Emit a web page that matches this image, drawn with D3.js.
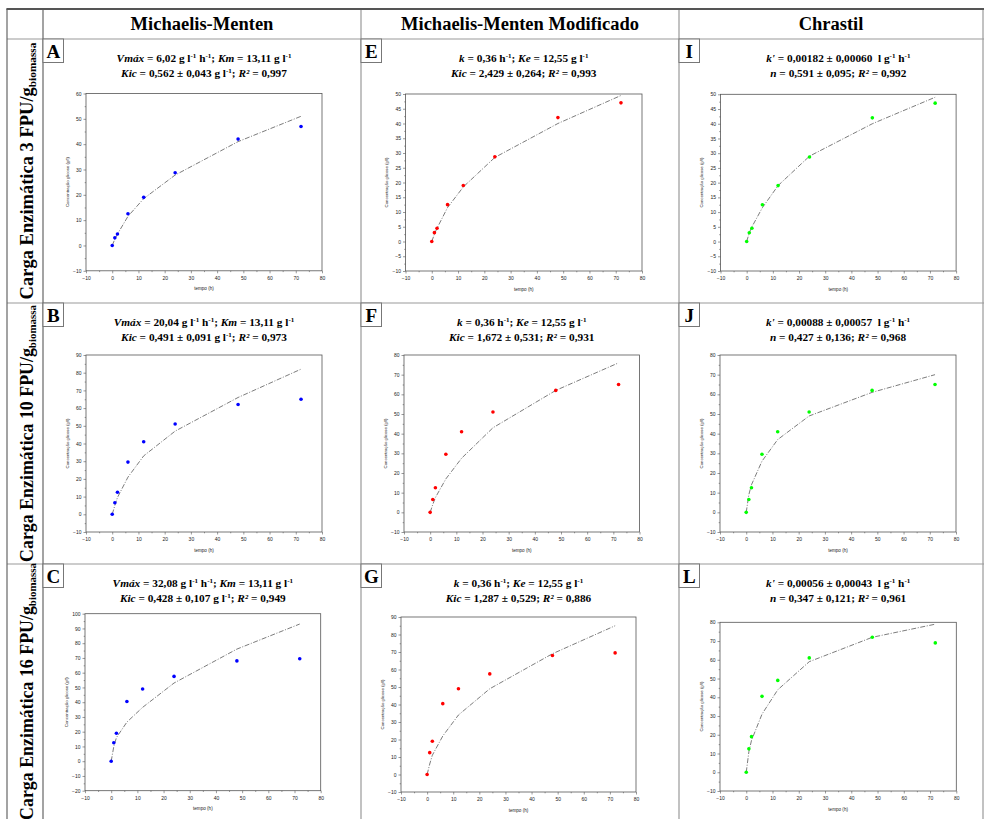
<!DOCTYPE html>
<html><head><meta charset="utf-8">
<script src="https://cdn.jsdelivr.net/npm/d3@7"></script>
<style>body{margin:0;background:#fff}svg{display:block}text{white-space:pre}</style>
</head><body><svg id="c" width="984" height="819"></svg>
<script>
// ---------------- data ----------------
const times = [0, 1, 2, 6, 12, 24, 48, 72];
const glucose3  = [0, 3, 4.5, 12.5, 19, 28.7, 42, 47];
const glucose10 = [0, 6.5, 12.5, 29.5, 41, 51, 62, 65];
const glucose16 = [0, 12.5, 19, 40.5, 49, 57.5, 68, 69.5];
const glucose16L = [0, 12.5, 19, 40.5, 49, 61, 72, 69];

const fitA = [0, 2.5, 4.5, 11.5, 18.5, 27.8, 41, 51];
const fitE = [0, 2.5, 4.5, 11.5, 18.5, 28.5, 40, 49.5];
const fitI = [0, 3, 5, 11.5, 19, 29, 40, 49];
const fitB = [0, 5, 9.5, 21, 33, 47, 66, 82];
const fitF = [0, 4, 7.5, 17, 27.5, 43, 62, 76];
const fitJ = [0, 9, 14, 26, 37, 49, 61, 70];
const fitC = [0, 10, 16, 26.5, 36.5, 53, 76, 93];
const fitG = [0, 6, 11, 22, 34, 49, 69, 85];
const fitL = [0, 11, 17, 31, 44, 59, 72, 79];

const columnTitles = ["Michaelis-Menten", "Michaelis-Menten Modificado", "Chrastil"];
const enzymeLoads = ["3", "10", "16"];
const panelLetters = ["A", "E", "I", "B", "F", "J", "C", "G", "L"];
const xTicks = [-10, 0, 10, 20, 30, 40, 50, 60, 70, 80];
const yMin  = [-10, -10, -10, -10, -10, -10, -20, -10, -10];
const yMax  = [60, 50, 50, 90, 80, 80, 100, 90, 80];
const yStep = [10, 5, 5, 10, 10, 10, 10, 10, 10];
const observed = [glucose3, glucose3, glucose3, glucose10, glucose10, glucose10, glucose16, glucose16, glucose16L];
const fitted = [fitA, fitE, fitI, fitB, fitF, fitJ, fitC, fitG, fitL];
const seriesColors = ["#0000ff", "#ff0000", "#00ff00"];

const paramLine1 = [
  "*Vmáx* = 6,02 g l^-1^ h^-1^; *Km* = 13,11 g l^-1^",
  "*k* = 0,36 h^-1^; *Ke* = 12,55 g l^-1^",
  "*k'* = 0,00182 ± 0,00060  l g^-1^ h^-1^",
  "*Vmáx* = 20,04 g l^-1^ h^-1^; *Km* = 13,11 g l^-1^",
  "*k* = 0,36 h^-1^; *Ke* = 12,55 g l^-1^",
  "*k'* = 0,00088 ± 0,00057  l g^-1^ h^-1^",
  "*Vmáx* = 32,08 g l^-1^ h^-1^; *Km* = 13,11 g l^-1^",
  "*k* = 0,36 h^-1^; *Ke* = 12,55 g l^-1^",
  "*k'* = 0,00056 ± 0,00043  l g^-1^ h^-1^"
];
const paramLine2 = [
  "*Kic* = 0,562 ± 0,043 g l^-1^; *R²* = 0,997",
  "*Kic* = 2,429 ± 0,264; *R²* = 0,993",
  "*n* = 0,591 ± 0,095; *R²* = 0,992",
  "*Kic* = 0,491 ± 0,091 g l^-1^; *R²* = 0,973",
  "*Kic* = 1,672 ± 0,531; *R²* = 0,931",
  "*n* = 0,427 ± 0,136; *R²* = 0,968",
  "*Kic* = 0,428 ± 0,107 g l^-1^; *R²* = 0,949",
  "*Kic* = 1,287 ± 0,529; *R²* = 0,886",
  "*n* = 0,347 ± 0,121; *R²* = 0,961"
];

// ---------------- layout ----------------
const colX = [43, 361, 679, 983];
const rowY = [39, 303, 564, 819];
const tableLeft = 7, tableTop = 9;
const frameX = [86, 405.5, 720.5, 86, 404, 720, 85, 401, 720];
const frameY = [93.5, 94, 94.3, 355, 355, 355, 613.7, 617, 622.3];
const frameW = [236, 236.5, 235.6, 236, 235.5, 236, 235.7, 235, 236.3];
const frameH = [177.3, 177, 176.7, 177, 177, 177, 177, 175, 168.7];

const serif = "'Liberation Serif','Times New Roman',Times,serif";
const sans = "'Liberation Sans',Arial,sans-serif";
const svg = d3.select("#c");

// ---------------- table ----------------
const grid = svg.append("g").attr("fill", "none");
[rowY[0], rowY[1], rowY[2]].forEach(yy => {
  grid.append("line").attr("x1", tableLeft).attr("x2", 984).attr("y1", yy).attr("y2", yy)
    .attr("stroke", "#999").attr("stroke-width", 1.2);
});
colX.forEach((xx, i) => {
  grid.append("line").attr("x1", xx).attr("x2", xx).attr("y1", tableTop).attr("y2", 819)
    .attr("stroke", i === 0 ? "#666" : "#999").attr("stroke-width", 1.2);
});
grid.append("line").attr("x1", tableLeft).attr("x2", tableLeft).attr("y1", tableTop).attr("y2", 819)
  .attr("stroke", "#666").attr("stroke-width", 1.2);
grid.append("line").attr("x1", tableLeft - 0.6).attr("x2", 984).attr("y1", tableTop).attr("y2", tableTop)
  .attr("stroke", "#555").attr("stroke-width", 2.2);

// column titles
columnTitles.forEach((t, i) => {
  svg.append("text").attr("x", (colX[i] + colX[i + 1]) / 2).attr("y", 30)
    .attr("text-anchor", "middle").attr("font-family", serif).attr("font-weight", 700)
    .attr("font-size", 18.5).attr("fill", "#000").text(t);
});

// row labels
enzymeLoads.forEach((v, r) => {
  const cy = (rowY[r] + rowY[r + 1]) / 2;
  const g = svg.append("g").attr("transform", `translate(33,${cy}) rotate(-90)`);
  const t = g.append("text").attr("text-anchor", "middle").attr("font-family", serif)
    .attr("font-weight", 700).attr("font-size", 18).attr("fill", "#000");
  t.append("tspan").text(`Carga Enzimática ${v} FPU/g`);
  t.append("tspan").attr("font-size", 11).attr("dy", 3).text("biomassa");
  const len = t.node().getComputedTextLength();
  const s = 257 / len;
  t.attr("font-size", 18 * s);
  t.select("tspan:nth-child(2)").attr("font-size", 11 * s);
});

function richText(sel, str, size) {
  const parts = str.split(/(\*[^*]+\*|\^[^^]+\^)/).filter(s => s.length);
  let raised = false;
  parts.forEach(s => {
    const t = sel.append("tspan");
    let dy = 0;
    if (s[0] === "^") {
      t.text(s.slice(1, -1)).attr("font-size", size * 0.62);
      if (!raised) { dy = -size * 0.38; raised = true; }
    } else {
      if (raised) { dy = size * 0.38; raised = false; }
      if (s[0] === "*") t.text(s.slice(1, -1)).attr("font-style", "italic");
      else t.text(s);
    }
    if (dy) t.attr("dy", dy);
  });
}

// ---------------- panels ----------------
panelLetters.forEach((letter, i) => {
  const r = Math.floor(i / 3), c = i % 3;
  const cellX = colX[c], cellY = rowY[r];
  const g = svg.append("g");

  g.append("rect").attr("x", cellX).attr("y", cellY).attr("width", 20.5).attr("height", 23.5)
    .attr("fill", "#fff").attr("stroke", "#777").attr("stroke-width", 1);
  g.append("text").attr("x", cellX + 10.3).attr("y", cellY + 18.5).attr("text-anchor", "middle")
    .attr("font-family", serif).attr("font-weight", 700).attr("font-size", 19).text(letter);

  const fx = frameX[i], fy = frameY[i], fw = frameW[i], fh = frameH[i];
  const cx = fx + fw / 2;

  const t1 = g.append("text").attr("x", cx).attr("y", cellY + 23).attr("text-anchor", "middle")
    .attr("font-family", serif).attr("font-weight", 700).attr("font-size", 11.3);
  richText(t1, paramLine1[i], 11.3);
  const t2 = g.append("text").attr("x", cx).attr("y", cellY + 38).attr("text-anchor", "middle")
    .attr("font-family", serif).attr("font-weight", 700).attr("font-size", 11.3);
  richText(t2, paramLine2[i], 11.3);

  const x = d3.scaleLinear().domain([xTicks[0], xTicks[xTicks.length - 1]]).range([fx, fx + fw]);
  const y = d3.scaleLinear().domain([yMin[i], yMax[i]]).range([fy + fh, fy]);
  const yTicks = d3.range(yMin[i], yMax[i] + 0.001, yStep[i]);
  const yMinor = d3.range(yMin[i] + yStep[i] / 2, yMax[i], yStep[i]);
  const xMinor = d3.range(xTicks[0] + 5, xTicks[xTicks.length - 1], 10);

  g.append("rect").attr("x", fx).attr("y", fy).attr("width", fw).attr("height", fh)
    .attr("fill", "none").attr("stroke", "#555").attr("stroke-width", 0.8);

  const styleAxis = a => {
    a.select(".domain").remove();
    a.selectAll("line").attr("stroke", "#555").attr("stroke-width", 0.6);
    a.selectAll("text").attr("font-family", sans).attr("font-size", 5).attr("fill", "#222");
  };
  g.append("g").attr("transform", `translate(0,${fy + fh})`)
    .call(d3.axisBottom(x).tickValues(xTicks).tickSize(2.5).tickPadding(3.2).tickFormat(d3.format("d")))
    .call(styleAxis);
  g.append("g").attr("transform", `translate(0,${fy + fh})`)
    .call(d3.axisBottom(x).tickValues(xMinor).tickSize(1.3).tickFormat(""))
    .call(styleAxis);
  g.append("g").attr("transform", `translate(${fx},0)`)
    .call(d3.axisLeft(y).tickValues(yTicks).tickSize(2.5).tickPadding(2).tickFormat(d3.format("d")))
    .call(styleAxis);
  g.append("g").attr("transform", `translate(${fx},0)`)
    .call(d3.axisLeft(y).tickValues(yMinor).tickSize(1.3).tickFormat(""))
    .call(styleAxis);

  g.append("text").attr("x", cx).attr("y", fy + fh + 19.5).attr("text-anchor", "middle")
    .attr("font-family", sans).attr("font-size", 4.6).attr("fill", "#222").text("tempo (h)");
  g.append("text").attr("transform", `translate(${fx - 19},${fy + fh / 2}) rotate(-90)`)
    .attr("text-anchor", "middle").attr("dy", "0.35em")
    .attr("font-family", sans).attr("font-size", 4.3).attr("fill", "#222").text("Concentração glicose (g/l)");

  const line = d3.line().x((d, k) => x(times[k])).y(d => y(d));
  g.append("path").datum(fitted[i]).attr("d", line).attr("fill", "none")
    .attr("stroke", "#444").attr("stroke-width", 0.7).attr("stroke-dasharray", "5,1.6,1,1.6");

  g.selectAll("circle.pt").data(observed[i]).join("circle").attr("class", "pt")
    .attr("cx", (d, k) => x(times[k])).attr("cy", d => y(d)).attr("r", 1.8)
    .attr("fill", seriesColors[c]);
});
</script>
</body></html>
